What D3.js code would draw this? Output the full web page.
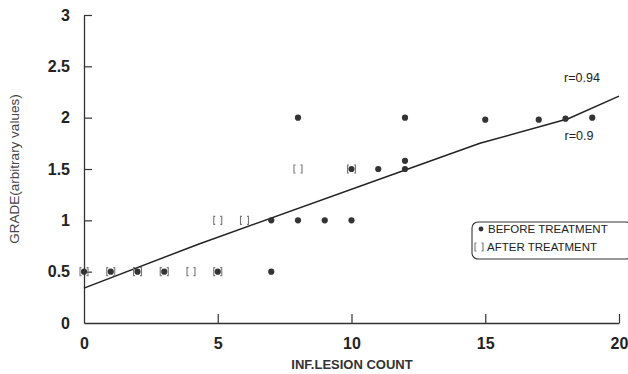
<!DOCTYPE html>
<html><head><meta charset="utf-8">
<script src="https://cdn.jsdelivr.net/npm/d3@7"></script>
<style>body{margin:0;background:#fff}svg{display:block}</style>
</head><body>
<svg id="c" width="628" height="374"></svg>
<script>
// Data
const beforeX = [0,1,2,3,5,7, 7,8,9,10, 10,11,12,12, 8,12,15,17,18,19];
const beforeY = [0.5,0.5,0.5,0.5,0.5,0.5, 1,1,1,1, 1.5,1.5,1.5,1.58, 2,2,1.98,1.98,1.99,2];
const afterX = [0,1,2,3,4,5, 5,6, 8,10];
const afterY = [0.5,0.5,0.5,0.5,0.5,0.5, 1,1, 1.5,1.5];
const fitX = [0,4.3,11.8,14.8,18.1,20];
const fitY = [0.34,0.77,1.47,1.75,1.99,2.21];
const xTicks = [0,5,10,15,20];
const yTicks = [0,0.5,1,1.5,2,2.5,3];
const rLabels = ["r=0.94","r=0.9"];
const legendLabels = ["BEFORE TREATMENT","AFTER TREATMENT"];

const svg = d3.select("#c");
const font = "'Liberation Sans', Arial, sans-serif";
const x = d3.scaleLinear().domain([0,20]).range([84,619]);
const y = d3.scaleLinear().domain([0,3]).range([323,15]);
const ink = "#333";

// axes
const xAxis = d3.axisBottom(x).tickValues(xTicks).tickSizeInner(-9).tickSizeOuter(0).tickPadding(15).tickFormat(d3.format("d"));
const gx = svg.append("g").attr("transform",`translate(0,${y(0)})`).call(xAxis);
gx.select(".domain").attr("stroke",ink).attr("stroke-width",1.3);
gx.selectAll(".tick line").attr("stroke",ink).attr("stroke-width",1.2);
gx.selectAll(".tick").filter(d=>d===0).select("line").remove();
gx.selectAll("text").attr("font-family",font).attr("font-weight","bold").attr("font-size",16).attr("fill","#222");

const yAxis = d3.axisLeft(y).tickValues(yTicks).tickSizeInner(-8).tickSizeOuter(0).tickPadding(14).tickFormat(d=>String(d));
const gy = svg.append("g").attr("transform",`translate(${x(0)},0)`).call(yAxis);
gy.select(".domain").attr("stroke",ink).attr("stroke-width",1.3);
gy.selectAll(".tick line").attr("stroke",ink).attr("stroke-width",1.2);
gy.selectAll(".tick").filter(d=>d===0).select("line").remove();
gy.selectAll("text").attr("font-family",font).attr("font-weight","bold").attr("font-size",16).attr("fill","#222");

// axis titles
svg.append("text").attr("x",352).attr("y",369).attr("text-anchor","middle")
  .attr("font-family",font).attr("font-weight","bold").attr("font-size",13).attr("fill","#333")
  .text("INF.LESION COUNT");
svg.append("text").attr("transform","translate(19,169) rotate(-90)").attr("text-anchor","middle")
  .attr("font-family",font).attr("font-size",13.5).attr("fill","#444")
  .text("GRADE(arbitrary values)");

// fit line
const fit = fitX.map((v,i)=>[v,fitY[i]]);
svg.append("path").datum(fit)
  .attr("d", d3.line().x(d=>x(d[0])).y(d=>y(d[1])))
  .attr("fill","none").attr("stroke","#222").attr("stroke-width",1.5);

// bracket marker
function bracket(g, cx, cy){
  const w=4, h=4, t=1.5;
  g.append("path")
    .attr("d",`M${cx-w+t},${cy-h}L${cx-w},${cy-h}L${cx-w},${cy+h}L${cx-w+t},${cy+h}M${cx+w-t},${cy-h}L${cx+w},${cy-h}L${cx+w},${cy+h}L${cx+w-t},${cy+h}`)
    .attr("fill","none").attr("stroke","#777").attr("stroke-width",1.1);
}
const ga = svg.append("g");
afterX.forEach((v,i)=>bracket(ga, x(v), y(afterY[i])));

svg.append("g").selectAll("circle").data(beforeX.map((v,i)=>[v,beforeY[i]])).join("circle")
  .attr("cx",d=>x(d[0])).attr("cy",d=>y(d[1])).attr("r",3.1).attr("fill",ink);

// r labels
svg.append("text").attr("x",582).attr("y",82).attr("text-anchor","middle")
  .attr("font-family",font).attr("font-size",12.5).attr("fill","#222").text(rLabels[0]);
svg.append("text").attr("x",579).attr("y",140).attr("text-anchor","middle")
  .attr("font-family",font).attr("font-size",12.5).attr("fill","#222").text(rLabels[1]);

// legend
const lg = svg.append("g");
lg.append("rect").attr("x",472).attr("y",222).attr("width",160).attr("height",37).attr("rx",6)
  .attr("fill","none").attr("stroke","#333").attr("stroke-width",1.1);
lg.append("circle").attr("cx",481).attr("cy",229).attr("r",2.4).attr("fill",ink);
bracket(lg, 479, 247);
lg.append("text").attr("x",488).attr("y",233).attr("font-family",font).attr("font-size",11.5).attr("fill","#222").text(legendLabels[0]);
lg.append("text").attr("x",487).attr("y",251).attr("font-family",font).attr("font-size",11.5).attr("fill","#222").text(legendLabels[1]);
</script>
</body></html>
